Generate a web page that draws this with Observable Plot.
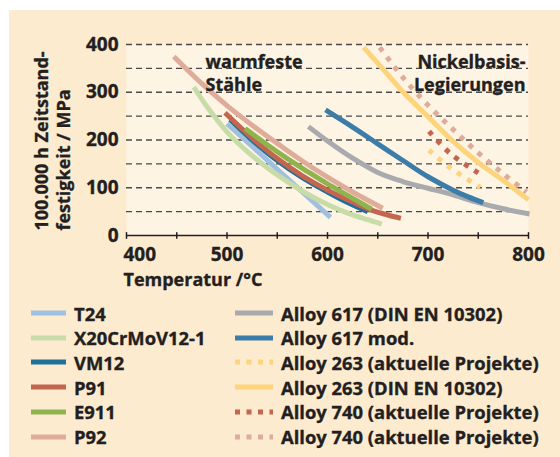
<!DOCTYPE html>
<html>
<head>
<meta charset="utf-8">
<script src="https://cdn.jsdelivr.net/npm/d3@7"></script>
<script src="https://cdn.jsdelivr.net/npm/@observablehq/plot@0.6"></script>
<style>
  html, body { margin: 0; padding: 0; background: #ffffff; }
  body { width: 560px; height: 457px; overflow: hidden; position: relative; font-family: "Open Sans", sans-serif; }
  #panel { position: absolute; left: 9px; top: 10px; width: 551px; height: 447px; background: #fdebd0; }
  #chart { position: absolute; left: 0; top: 0; }
  #legend { position: absolute; left: 0; top: 0; width: 551px; height: 447px; }
  .row { position: absolute; height: 24px; display: flex; align-items: center; font-weight: 700; font-size: 18.4px; color: #231f20; white-space: nowrap; -webkit-text-stroke: 0.35px #231f20; }
  .row svg { display: block; margin-right: 8px; }
</style>
</head>
<body>
<div id="panel"><div id="chart"></div><div id="legend"></div></div>
<script>
// ---- Data ----
const xTickLabels = [400, 500, 600, 700, 800];
const xTickMarks = [400, 450, 500, 550, 600, 650, 700, 750, 800];
const yTickLabels = [0, 100, 200, 300, 400];
const yGrid = [50, 100, 150, 200, 250, 300, 350, 400];

const seriesNames = ["T24", "X20CrMoV12-1", "VM12", "P91", "E911", "P92",
  "Alloy 617 (DIN EN 10302)", "Alloy 617 mod.", "Alloy 263 (aktuelle Projekte)",
  "Alloy 263 (DIN EN 10302)", "Alloy 740 (aktuelle Projekte)", "Alloy 740 (aktuelle Projekte)"];

const t24 = [[500, 234], [552, 135], [603, 38]];
const x20 = [[467, 311], [480, 270], [500, 217], [520, 176], [540, 142], [560, 113], [580, 87], [600, 65], [620, 47], [640, 33], [654, 24]];
const vm12 = [[503, 243], [525, 200], [550, 157], [575, 121], [600, 91], [620, 69], [640, 50]];
const p91 = [[498, 257], [525, 204], [550, 161], [575, 125], [600, 95], [625, 70], [645, 52], [660, 43], [673, 36]];
const e911 = [[518, 224], [540, 190], [560, 161], [580, 134], [600, 108], [620, 84], [644, 55]];
const p92 = [[447, 375], [475, 318], [500, 272], [525, 231], [550, 193], [575, 156], [600, 122], [625, 91], [655, 57]];
const alloy617 = [[581, 228], [600, 198], [625, 162], [650, 132], [675, 113], [700, 99], [725, 85], [750, 69], [775, 56], [801, 45]];
const alloy617mod = [[598, 263], [625, 227], [650, 192], [675, 157], [700, 123], [725, 95], [740, 81], [755, 69]];
const alloy263akt = [[701, 179], [722, 142], [752, 101]];
const alloy263din = [[636, 394], [650, 361], [675, 301], [700, 249], [725, 197], [750, 153], [775, 115], [800, 75]];
const alloy740akt = [[701, 218], [722, 172], [750, 131]];
const alloy740b = [[652, 394], [675, 331], [700, 273], [725, 222], [750, 173], [775, 129], [798, 91]];

const seriesData = [t24, x20, vm12, p91, e911, p92, alloy617, alloy617mod, alloy263akt, alloy263din, alloy740akt, alloy740b];
const seriesColors = ["#9fc0de", "#c8dca8", "#1e6f99", "#c4654f", "#8fb44e", "#e0ac9a",
  "#a8aaae", "#3c7ca8", "#fdd47c", "#fdd47c", "#c4654f", "#e0ac9a"];
const seriesDashed = [false, false, false, false, false, false, false, false, true, false, true, true];

const ink = "#231f20";
const font = "'Open Sans', sans-serif";
const txt = { fontWeight: 700, fill: ink, stroke: ink, strokeWidth: 0.35 };

const lineMarks = seriesData.map((data, i) => Plot.line(data, {
  x: d => d[0], y: d => d[1], curve: "catmull-rom",
  stroke: seriesColors[i], strokeWidth: 5, strokeLinecap: "butt", strokeLinejoin: "round",
  strokeDasharray: seriesDashed[i] ? "5,7" : null
}));

const chart = Plot.plot({
  width: 551, height: 285,
  marginLeft: 117, marginRight: 32, marginTop: 34, marginBottom: 60,
  x: { domain: [400, 800], axis: null },
  y: { domain: [0, 400], axis: null },
  style: { background: "transparent", fontFamily: font, overflow: "visible" },
  marks: [
    Plot.frame({ fill: "#fef4e4", stroke: "none" }),
    Plot.ruleY(yGrid, { stroke: "#4a4a4a", strokeWidth: 1.4, strokeDasharray: "6,4" }),
    ...lineMarks,
    Plot.ruleY([0], { stroke: ink, strokeWidth: 1.5 }),
    Plot.ruleX(xTickMarks, { y1: -8, y2: 6, stroke: ink, strokeWidth: 1.5 }),
    Plot.text(yTickLabels, { y: d => d, frameAnchor: "left", dx: -8, textAnchor: "end", text: d => String(d), fontSize: 19, ...txt }),
    Plot.text(xTickLabels.slice(1), { x: d => d, frameAnchor: "bottom", dy: 25, text: d => String(d), fontSize: 19, ...txt }),
    Plot.text(xTickLabels.slice(0, 1), { x: d => d, frameAnchor: "bottom", dy: 25, dx: -3, textAnchor: "start", text: d => String(d), fontSize: 19, ...txt }),
    Plot.text(["Temperatur /°C"], { frameAnchor: "bottom-left", dy: 50, dx: -3, textAnchor: "start", fontSize: 18, ...txt }),
    Plot.text(["100.000 h Zeitstand-"], { frameAnchor: "bottom-left", rotate: -90, textAnchor: "start", dx: -79, dy: -5, fontSize: 18, ...txt }),
    Plot.text(["festigkeit / MPa"], { frameAnchor: "bottom-left", rotate: -90, textAnchor: "start", dx: -57, dy: -5, fontSize: 18, ...txt }),
    Plot.text(["warmfeste\nStähle"], { frameAnchor: "top-left", dx: 79, dy: 6, textAnchor: "start", lineAnchor: "top", lineHeight: 1.33, fontSize: 18, ...txt }),
    Plot.text(["Nickelbasis-\nLegierungen"], { frameAnchor: "top-right", dx: -3, dy: 6, textAnchor: "end", lineAnchor: "top", lineHeight: 1.33, fontSize: 18, ...txt })
  ]
});
document.getElementById("chart").appendChild(chart);

// ---- Legend ----
const legend = document.getElementById("legend");
seriesNames.forEach((name, i) => {
  const col = i < 6 ? 0 : 1;
  const r = i % 6;
  const row = document.createElement("div");
  row.className = "row";
  row.style.left = (col === 0 ? 22 : 226) + "px";
  row.style.top = (291 + r * 24.7) + "px";
  const sw = col === 0 ? 35 : 38;
  const svgNS = "http://www.w3.org/2000/svg";
  const s = document.createElementNS(svgNS, "svg");
  s.setAttribute("width", sw); s.setAttribute("height", 8);
  const l = document.createElementNS(svgNS, "line");
  l.setAttribute("x1", 0); l.setAttribute("x2", sw); l.setAttribute("y1", 4); l.setAttribute("y2", 4);
  l.setAttribute("stroke", seriesColors[i]); l.setAttribute("stroke-width", 5);
  if (seriesDashed[i]) l.setAttribute("stroke-dasharray", "5,6.5");
  s.appendChild(l);
  row.appendChild(s);
  const t = document.createElement("span");
  t.textContent = name;
  row.appendChild(t);
  legend.appendChild(row);
});
</script>
</body>
</html>
